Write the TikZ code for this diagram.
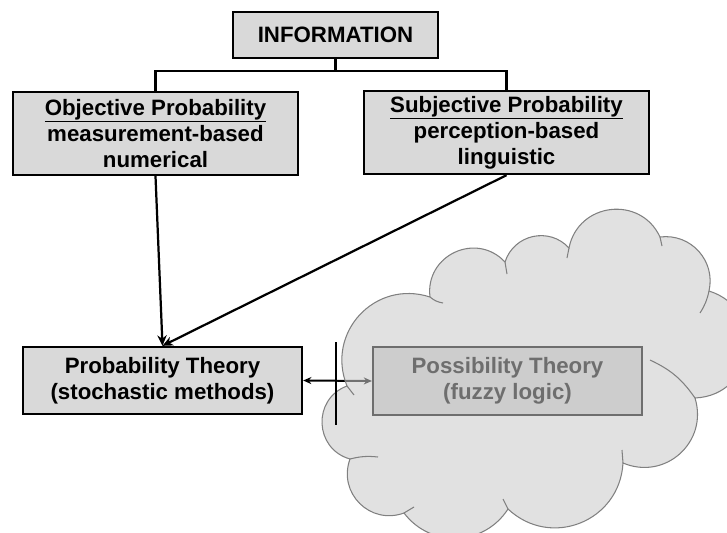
\documentclass[tikz,border=0pt]{standalone}
\usepackage{fontspec}
\setmainfont{Liberation Sans}
\usetikzlibrary{arrows.meta, positioning}
\definecolor{boxgray}{RGB}{217,217,217}
\definecolor{possfill}{RGB}{205,205,205}
\definecolor{fadedgray}{RGB}{110,110,110}
\definecolor{cloudfill}{RGB}{202,202,202}
\definecolor{cloudline}{RGB}{128,128,128}
\pgfdeclarelayer{arrowlayer}
\pgfdeclarelayer{cloudlayer}
\pgfsetlayers{arrowlayer,cloudlayer,main}

\begin{document}
\begin{tikzpicture}[
    x=0.03cm, y=0.03cm,
    every node/.style={font=\fontsize{19}{22.2}\selectfont\bfseries},
    box/.style={rectangle, align=center, text centered, draw=black,
                fill=boxgray, line width=2pt, inner sep=0pt},
    possbox/.style={box, draw=fadedgray, fill=possfill, text=fadedgray, line width=1.8pt},
    line/.style={line width=1.9pt},
    arrow/.style={-{Stealth[length=9pt, width=8pt]}, line width=1.9pt},
    twoway/.style={{Stealth[length=7pt, width=6pt]}-{Stealth[length=7pt, width=6pt]}, line width=1.7pt},
    cloudshape/.style={draw=cloudline, line width=0.9pt, fill=cloudfill, fill opacity=0.56},
    fragment/.style={draw=cloudline, line width=0.9pt},
    puff/.style 2 args={bend left=#1, looseness=#2}
]
\path[use as bounding box] (0,0) rectangle (727,-533);
\clip (0,0) rectangle (727,-533);

% Information
\node (info) [box, minimum width=6.15cm, minimum height=1.38cm] at (335.5,-35) {INFORMATION};

% Probability kinds
\node (obj) [box, minimum width=8.55cm, minimum height=2.49cm] at (155.5,-133.5)
    {\underline{Objective Probability}\\measurement-based\\numerical};
\node (subj) [box, minimum width=8.55cm, minimum height=2.49cm] at (506.5,-132.5)
    {\underline{Subjective Probability}\\perception-based\\linguistic};

% Theories
\node (prob) [box, minimum width=8.37cm, minimum height=2.01cm] at (162.5,-380.5)
    {Probability Theory\\(stochastic methods)};
\node (poss) [possbox, minimum width=8.07cm, minimum height=2.04cm] at (507.5,-381)
    {Possibility Theory\\(fuzzy logic)};

% Tree
\coordinate (split) at (335.5,-71);
\draw [line] (info) -- (split);
\draw [line] (obj.north) |- (split) -| (subj.north);

% Arrows
\draw [arrow] (obj.south) -- (prob.north);
\draw [arrow] (subj.south) -- (prob.north);
\begin{pgfonlayer}{arrowlayer}
\draw [twoway] (prob.east) -- (poss.west);
\end{pgfonlayer}

% Cloud
\begin{pgfonlayer}{cloudlayer}
\draw [cloudshape] (347,-386)
    to[puff={65}{1.21}] (430,-297)
    to[puff={72}{1.30}] (505,-262)
    to[puff={60}{1.14}] (569,-248)
    to[puff={72}{1.30}] (660,-237)
    to[puff={55}{1.09}] (709,-291)
    to[puff={80}{1.45}] (695,-398)
    to[puff={65}{1.21}] (623,-463)
    to[puff={65}{1.21}] (508,-509)
    to[puff={55}{1.09}] (404,-513)
    to[puff={65}{1.21}] (350,-459)
    to[puff={72}{1.30}] (347,-386) -- cycle;
\draw [fragment] (347,-386) -- (354,-395);
\draw [fragment] (430,-297) to[bend right=15] (443,-303);
\draw [fragment] (505,-262) -- (507,-274);
\draw [fragment] (569,-248) -- (567,-258);
\draw [fragment] (660,-237) -- (662,-246);
\draw [fragment] (709,-291) to[bend left=10] (700,-313);
\draw [fragment] (695,-398) to[bend right=15] (650,-360);
\draw [fragment] (623,-463) -- (622,-450);
\draw [fragment] (508,-509) -- (503,-499);
\draw [fragment] (404,-513) -- (414,-507);
\draw [fragment] (350,-459) to[bend left=10] (378,-457);
\end{pgfonlayer}

% Mark
\coordinate (marktop) at (336,-342);
\coordinate (markbot) at (336,-425);
\draw [line] (marktop) -- (markbot);

\end{tikzpicture}
\end{document}
